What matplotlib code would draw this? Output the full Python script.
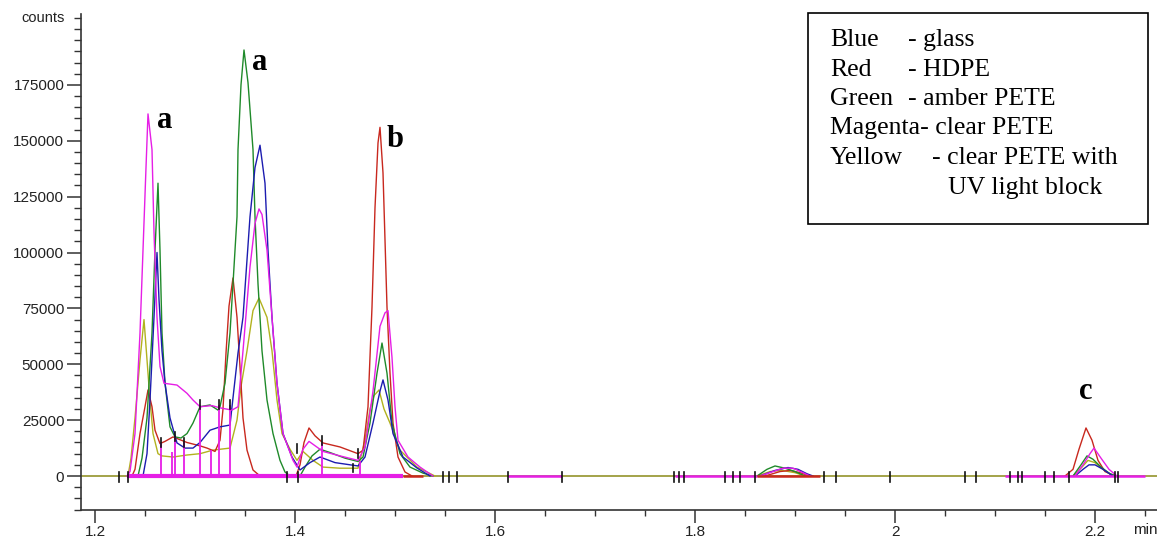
import numpy as np
import matplotlib
matplotlib.use('Agg')
import matplotlib.pyplot as plt
from matplotlib.ticker import MultipleLocator
from matplotlib.patches import Rectangle

nan = float('nan')

# retention time (min) and detector counts
# nan separates the three peak regions of each trace
glass_t = [1.248, 1.252, 1.255, 1.259, 1.262, 1.264, 1.267, 1.270, 1.275, 1.282, 1.290, 1.298, 1.305, 1.315,
           1.325, 1.335, 1.338, 1.343, 1.348, 1.355, 1.360, 1.365, 1.370, 1.373, 1.377, 1.382, 1.388, 1.397,
           1.405, 1.415, 1.425, 1.440, 1.463, 1.470, 1.478, 1.485, 1.488, 1.493, 1.498, 1.508, 1.522, 1.535,
           nan, 1.865, 1.880, 1.893, 1.903, 1.912, 1.918,
           nan, 2.180, 2.188, 2.194, 2.200, 2.208, 2.218]
glass_counts = [0, 10000, 34000, 71000, 100000, 79000, 56000, 41500, 26000, 14800, 12500, 12500, 15000, 20500,
                22000, 22800, 35000, 55000, 71000, 116000, 138000, 148000, 131000, 101000, 71000, 41500, 19000, 8500,
                2700, 6000, 8500, 6000, 4500, 8500, 23700, 38000, 43000, 34000, 19000, 8500, 3600, 0,
                nan, 0, 2500, 3800, 3000, 1000, 0,
                nan, 0, 3000, 5000, 5000, 3000, 0]

hdpe_t = [1.237, 1.240, 1.245, 1.250, 1.253, 1.257, 1.260, 1.265, 1.270, 1.278, 1.292, 1.305, 1.312, 1.320,
          1.325, 1.328, 1.331, 1.334, 1.338, 1.342, 1.346, 1.348, 1.352, 1.358, 1.365, 1.401, 1.405, 1.409,
          1.414, 1.420, 1.428, 1.445, 1.463, 1.468, 1.473, 1.477, 1.480, 1.483, 1.485, 1.488, 1.490, 1.492,
          1.495, 1.498, 1.503, 1.510, 1.517,
          nan, 1.870, 1.885, 1.895, 1.905, 1.915,
          nan, 2.170, 2.178, 2.184, 2.191, 2.197, 2.203, 2.210, 2.220]
hdpe_counts = [0, 3000, 19000, 31000, 38500, 31000, 20500, 14500, 15500, 17500, 15000, 13500, 12500, 11000,
               16000, 30000, 55000, 76000, 88600, 71000, 41500, 26000, 11600, 2700, 0, 0, 5000, 15000,
               21500, 18000, 14800, 13000, 10000, 11500, 31000, 75600, 120000, 149000, 156000, 135600, 105600, 75600,
               46000, 23700, 8500, 1800, 0,
               nan, 0, 2000, 2500, 1500, 0,
               nan, 0, 3000, 12000, 21500, 16000, 7000, 2000, 0]

amber_t = [1.243, 1.247, 1.252, 1.257, 1.260, 1.263, 1.265, 1.267, 1.270, 1.275, 1.280, 1.286, 1.292, 1.298,
           1.305, 1.315, 1.323, 1.325, 1.330, 1.335, 1.338, 1.342, 1.343, 1.346, 1.349, 1.353, 1.358, 1.360,
           1.363, 1.367, 1.372, 1.378, 1.385, 1.390, 1.395, 1.405, 1.410, 1.417, 1.425, 1.435, 1.450, 1.463,
           1.468, 1.475, 1.482, 1.487, 1.492, 1.497, 1.505, 1.515, 1.528, 1.538,
           nan, 1.862, 1.872, 1.880, 1.890, 1.900, 1.910,
           nan, 2.178, 2.186, 2.192, 2.198, 2.206, 2.215, 2.222]
amber_counts = [0, 8000, 26000, 64000, 101000, 131000, 101000, 64000, 41500, 22000, 17500, 17000, 19000, 23700,
                31000, 31800, 29500, 31000, 41500, 64000, 86000, 116000, 146000, 175000, 190600, 176000, 146000, 116000,
                86000, 56000, 34000, 19000, 7000, 1800, 0, 0, 4000, 9000, 12000, 10500, 8000, 6500,
                8500, 23700, 46000, 59500, 46000, 23700, 10000, 4000, 1300, 0,
                nan, 0, 3000, 4500, 3500, 2000, 0,
                nan, 0, 5000, 9000, 7500, 4000, 1000, 0]

clear_t = [1.232, 1.235, 1.240, 1.245, 1.248, 1.251, 1.253, 1.257, 1.259, 1.262, 1.265, 1.269, 1.282, 1.292,
           1.298, 1.305, 1.317, 1.325, 1.337, 1.343, 1.348, 1.355, 1.360, 1.364, 1.367, 1.372, 1.377, 1.382,
           1.388, 1.398, 1.402, 1.408, 1.414, 1.428, 1.445, 1.463, 1.470, 1.478, 1.485, 1.490, 1.493, 1.497,
           1.500, 1.503, 1.513, 1.525, 1.538,
           nan, 1.865, 1.878, 1.888, 1.898, 1.908, 1.915,
           nan, 2.180, 2.188, 2.195, 2.199, 2.206, 2.214, 2.222]
clear_counts = [0, 2000, 19000, 64000, 101000, 138000, 162000, 146000, 109000, 71000, 49000, 41500, 40700, 37000,
                34000, 31000, 31500, 30500, 29500, 31000, 56000, 93500, 113000, 119500, 117000, 101000, 71000, 41500,
                19000, 7000, 4000, 12000, 15500, 11000, 9000, 7000, 13000, 38000, 67000, 73000, 74000, 53000,
                31000, 16000, 8500, 4000, 0,
                nan, 0, 2000, 3500, 3500, 1500, 0,
                nan, 0, 5000, 10000, 12500, 8000, 3000, 0]

uv_t = [1.233, 1.236, 1.240, 1.245, 1.249, 1.252, 1.255, 1.258, 1.263, 1.267, 1.278, 1.292, 1.305, 1.318,
        1.335, 1.342, 1.346, 1.352, 1.358, 1.364, 1.372, 1.377, 1.382, 1.387, 1.395, 1.402, 1.408, 1.418,
        1.428, 1.445, 1.463, 1.470, 1.475, 1.479, 1.484, 1.489, 1.495, 1.505, 1.522, 1.540,
        nan, 1.862, 1.875, 1.887, 1.900, 1.910,
        nan, 2.178, 2.187, 2.193, 2.200, 2.208, 2.218]
uv_counts = [0, 8000, 26000, 52000, 70000, 52000, 34000, 19000, 10000, 9000, 8500, 9400, 10000, 11600,
             12500, 25000, 40000, 56000, 74000, 79600, 71000, 56000, 34000, 19000, 12000, 7000, 11000, 7000,
             4000, 3500, 3500, 16000, 30000, 36000, 38500, 30000, 23700, 11600, 4000, 0,
             nan, 0, 2000, 2500, 1500, 0,
             nan, 0, 4000, 7000, 6000, 3000, 0]

# integration drop lines (time, top of line)
drop_t = [1.266, 1.277, 1.280, 1.289, 1.305, 1.316, 1.324, 1.335, 1.427, 1.465]
drop_top = [14800, 10700, 17500, 15000, 31800, 11600, 31800, 31800, 14800, 6500]

# peak start/stop markers (time, level)
mark_t = [1.224, 1.233, 1.266, 1.280, 1.289, 1.305, 1.324, 1.335, 1.392, 1.402, 1.403, 1.427, 1.458, 1.463,
          1.548, 1.554, 1.562, 1.613, 1.667, 1.779, 1.784, 1.789, 1.830, 1.838, 1.845, 1.860, 1.929, 1.941,
          1.995, 2.070, 2.081, 2.115, 2.123, 2.127, 2.150, 2.159, 2.174, 2.220, 2.223]
mark_level = [0, 0, 14800, 17500, 15000, 31800, 31800, 31800, 0, 12500, 0, 16000, 3600, 10000,
              0, 0, 0, 0, 0, 0, 0, 0, 0, 0, 0, 0, 0, 0,
              0, 0, 0, 0, 0, 0, 0, 0, 0, 0, 0]

# baseline pieces drawn in a trace colour
base_start = [1.232, 1.508, 1.613, 1.780, 1.862, 2.110]
base_end = [1.508, 1.528, 1.667, 1.862, 1.925, 2.250]
base_trace = ['clear', 'hdpe', 'clear', 'clear', 'hdpe', 'clear']

peak_labels = ['a', 'a', 'b', 'c']
peak_label_t = [1.2695, 1.365, 1.500, 2.191]
peak_label_y = [155700, 181700, 147200, 34500]

yticks = [0, 25000, 50000, 75000, 100000, 125000, 150000, 175000]
xticks = [1.2, 1.4, 1.6, 1.8, 2.0, 2.2]
xticklabels = ['1.2', '1.4', '1.6', '1.8', '2', '2.2']

legend_names = ['Blue', 'Red', 'Green', 'Magenta- clear PETE', 'Yellow', '']
legend_desc = ['- glass', '- HDPE', '- amber PETE', '', '- clear PETE with', 'UV light block']

colors = {'glass': '#1c1cb0', 'hdpe': '#c8281e', 'amber': '#1f8a2a',
          'clear': '#e61ee6', 'uv': '#b2b21e'}
base_color = '#9c9c3a'

plt.rcParams['font.family'] = ['Liberation Sans', 'DejaVu Sans']

fig = plt.figure(figsize=(11.57, 5.40), dpi=100)
ax = fig.add_axes([81 / 1157, 30 / 540, 1 - 81 / 1157, 496 / 540])
ax.set_xlim(1.186, 2.262)
ax.set_ylim(-15200, 206700)

ax.axhline(0, color=base_color, lw=1.3, zorder=1)
for s, e, tr in zip(base_start, base_end, base_trace):
    ax.plot([s, e], [0, 0], color=colors[tr], lw=3 if s < 1.3 else 1.8, solid_capstyle='butt', zorder=6)

series = [('uv', uv_t, uv_counts), ('hdpe', hdpe_t, hdpe_counts), ('amber', amber_t, amber_counts),
          ('glass', glass_t, glass_counts), ('clear', clear_t, clear_counts)]
for name, t, c in series:
    ax.plot(t, c, color=colors[name], lw=1.0, zorder=3)

ax.vlines(drop_t, 0, drop_top, color=colors['clear'], lw=1.3, zorder=4)
for t, lvl in zip(mark_t, mark_level):
    if lvl == 0:
        ax.plot([t, t], [-2600, 1600], color='#111111', lw=1.2, zorder=7)
    else:
        ax.plot([t, t], [lvl - 2000, lvl + 2000], color='#111111', lw=1.2, zorder=7)

for lab, t, y in zip(peak_labels, peak_label_t, peak_label_y):
    ax.text(t, y, lab, ha='center', va='baseline', fontsize=22, fontweight='bold',
            family='Liberation Serif', color='black')

for side in ['top', 'right']:
    ax.spines[side].set_visible(False)
for side in ['left', 'bottom']:
    ax.spines[side].set_color('#333333')
    ax.spines[side].set_linewidth(1.2)

ax.set_yticks(yticks)
ax.set_yticklabels([str(v) for v in yticks])
ax.set_xticks(xticks)
ax.set_xticklabels(xticklabels)
ax.xaxis.set_minor_locator(MultipleLocator(0.05))
ax.yaxis.set_minor_locator(MultipleLocator(5000))
ax.tick_params(axis='both', which='major', labelsize=11, colors='#333333', labelcolor='#222222')
ax.tick_params(axis='y', which='major', length=10, width=1.1, pad=2)
ax.tick_params(axis='y', which='minor', length=5, width=1.0, colors='#333333')
ax.tick_params(axis='x', which='major', length=9, width=1.1, pad=1.5)
ax.tick_params(axis='x', which='minor', length=4, width=1.0, colors='#333333')

fig.text(43 / 1157, 1 - 18 / 540, 'counts', ha='center', va='center', fontsize=10.5, color='#222222')
fig.text(1145 / 1157, 1 - 530 / 540, 'min', ha='center', va='center', fontsize=11, color='#222222')

# legend text box
fig.patches.append(Rectangle((808 / 1157, 1 - 224 / 540), 340 / 1157, 211 / 540,
                             transform=fig.transFigure, fill=False, edgecolor='black', lw=1.2))
row_base = [46, 76, 105, 134, 164, 194]
desc_x = [908, 908, 908, 908, 932, 948]
for i, (n, d) in enumerate(zip(legend_names, legend_desc)):
    y = 1 - row_base[i] / 540
    if n:
        fig.text(830 / 1157, y, n, ha='left', va='baseline', fontsize=18.5, family='Liberation Serif')
    if d:
        fig.text(desc_x[i] / 1157, y, d, ha='left', va='baseline', fontsize=18.5, family='Liberation Serif')

fig.savefig('out.png', dpi=100)
